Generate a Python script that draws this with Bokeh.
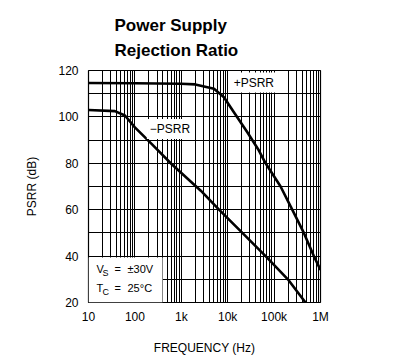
from bokeh.plotting import figure
from bokeh.models import Range1d, FixedTicker, Label, BoxAnnotation
from bokeh.embed import file_html
from bokeh.resources import INLINE

# ---- data ----
freq_pos = [10, 100, 975, 2000, 5070, 8300, 13600, 26500, 47100, 65600, 138000, 246000, 438000, 718000, 1000000]
psrr_pos = [114.6, 114.5, 114.3, 114.0, 112.1, 108.5, 102.0, 93.4, 85.5, 80.0, 70.0, 60.0, 50.0, 40.0, 34.0]

freq_neg = [10, 37, 61, 100, 229, 615, 2630, 6500, 20700, 65600, 198000, 475000]
psrr_neg = [103.0, 102.5, 100.6, 95.5, 88.4, 79.7, 68.2, 60.0, 50.0, 40.0, 30.0, 20.0]

x_ticks = [10, 100, 1000, 10000, 100000, 1000000]
x_tick_labels = ["10", "100", "1k", "10k", "100k", "1M"]
y_ticks = [20, 40, 60, 80, 100, 120]
y_minor = [30, 50, 70, 90, 110]

title_lines = ["Power Supply", "Rejection Ratio"]
x_label = "FREQUENCY (Hz)"
y_label = "PSRR (dB)"

FONT = "Liberation Sans"

p = figure(x_axis_type="log", x_range=Range1d(10, 1e6), y_range=Range1d(20, 120),
           frame_width=232, frame_height=232,
           min_border_left=88, min_border_top=70, min_border_right=40, min_border_bottom=40,
           output_backend="svg", toolbar_location=None)
p.background_fill_color = "white"
p.border_fill_color = "white"
p.outline_line_color = "black"
p.outline_line_width = 1.2

p.title.text = "\n".join(title_lines)
p.title.align = "left"
p.title.offset = 26
p.title.text_font = FONT
p.title.text_font_size = "17px"
p.title.text_font_style = "bold"
p.title.text_color = "black"
p.title.text_line_height = 1.32
p.title.standoff = 20

x_minor = [m * 10 ** d for d in range(1, 6) for m in range(2, 10)]
p.xaxis.ticker = FixedTicker(ticks=x_ticks, minor_ticks=x_minor)
p.yaxis.ticker = FixedTicker(ticks=y_ticks, minor_ticks=y_minor)
p.xaxis.major_label_overrides = {t: l for t, l in zip(x_ticks, x_tick_labels)}

for ax in (p.xaxis, p.yaxis):
    ax.axis_line_color = None
    ax.major_tick_line_color = None
    ax.minor_tick_line_color = None
    ax.major_tick_out = 0
    ax.major_tick_in = 0
    ax.major_label_text_font = FONT
    ax.major_label_text_font_size = "12px"
    ax.major_label_text_color = "black"
    ax.axis_label_text_font = FONT
    ax.axis_label_text_font_size = "12px"
    ax.axis_label_text_font_style = "normal"
    ax.axis_label_text_color = "black"

p.xaxis.axis_label = x_label
p.yaxis.axis_label = y_label
p.xaxis.major_label_standoff = 3
p.xaxis.axis_label_standoff = 14
p.yaxis.major_label_standoff = 6
p.yaxis.axis_label_standoff = 16

for g in (p.xgrid, p.ygrid):
    g.grid_line_color = "black"
    g.grid_line_width = 1
    g.minor_grid_line_color = "black"
    g.minor_grid_line_width = 1

p.line(freq_pos, psrr_pos, line_color="black", line_width=2.6, line_join="round")
p.line(freq_neg, psrr_neg, line_color="black", line_width=2.6, line_join="round")

# curve labels
for txt, xx, yy in (("+PSRR", 11600, 114.8), ("\u2212PSRR", 181, 94.8)):
    p.add_layout(Label(x=xx, y=yy, text=txt, text_font=FONT, text_font_size="12px",
                       text_baseline="middle", text_align="left", text_color="black",
                       background_fill_color="white", padding=3))

# conditions box
p.add_layout(BoxAnnotation(left=10, right=394, bottom=20, top=39.4,
                           fill_color="white", fill_alpha=1.0, line_color=None))
for main, sub, val, yy in (("V", "S", "\u00b130V", 34.4), ("T", "C", "25\u00b0C", 26.2)):
    p.add_layout(Label(x=10, y=yy, x_offset=8, text=main, text_font=FONT, text_font_size="11px",
                       text_baseline="middle", text_color="black"))
    p.add_layout(Label(x=10, y=yy, x_offset=14, y_offset=-4, text=sub, text_font=FONT,
                       text_font_size="9px", text_baseline="middle", text_color="black"))
    p.add_layout(Label(x=10, y=yy, x_offset=26, text="=", text_font=FONT, text_font_size="11px",
                       text_baseline="middle", text_color="black"))
    p.add_layout(Label(x=10, y=yy, x_offset=39, text=val, text_font=FONT, text_font_size="11px",
                       text_baseline="middle", text_color="black"))

open("out.html", "w").write(file_html(p, INLINE))
